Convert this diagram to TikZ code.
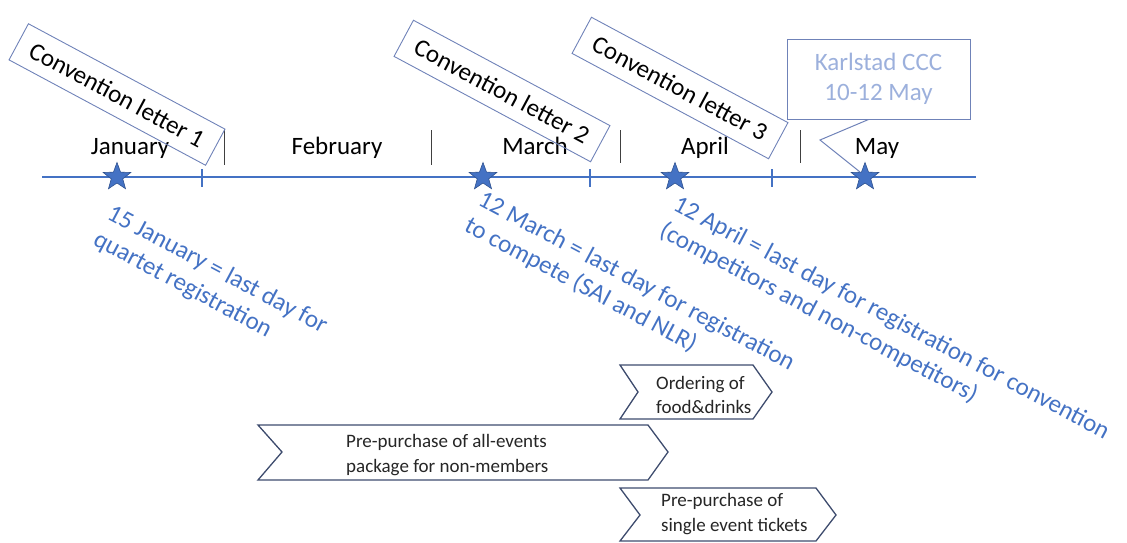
\documentclass[tikz,border=0pt]{standalone}
\usepackage{fontspec}
\setmainfont{Carlito}
\usetikzlibrary{shapes.geometric}
\definecolor{tlblue}{HTML}{4472C4}
\definecolor{stardark}{HTML}{2F528F}
\definecolor{boxblue}{HTML}{6F82B8}
\definecolor{karltext}{HTML}{9CB0DC}
\definecolor{chevline}{HTML}{3E4C6E}
\definecolor{chevtext}{HTML}{262626}
\tikzset{
  tline/.style={draw=tlblue, line width=2.2pt},
  tick/.style={draw=tlblue, line width=1.3pt},
  sep/.style={draw=black!75, line width=0.8pt},
  month/.style={font=\fontsize{25}{30}\selectfont, anchor=base, inner sep=0pt},
  starnode/.style={star, star points=5, star point ratio=2.4, minimum size=29pt, inner sep=0pt, fill=tlblue, draw=stardark, line width=0.6pt},
  letterbox/.style={draw=boxblue, line width=0.9pt, rotate=-28.2, minimum width=223pt, minimum height=41pt, inner sep=0pt, font=\fontsize{25}{30}\selectfont},
  karlbox/.style={draw=boxblue, line width=1pt, minimum width=183pt, minimum height=80pt, inner sep=0pt, align=center, text=karltext, font=\fontsize{25}{30}\selectfont},
  callout/.style={draw=boxblue, line width=1pt},
  datetext/.style={text=tlblue, rotate=-28, anchor=north west, align=left, inner sep=0pt, font=\fontsize{25}{29.5}\selectfont},
  chevron/.style={draw=chevline, line width=1.3pt, fill=white, line join=miter},
  chevlabel/.style={text=chevtext, anchor=west, align=left, inner sep=0pt, font=\fontsize{19}{24.5}\selectfont},
}
\begin{document}
\begin{tikzpicture}[x=1pt,y=-1pt]
\useasboundingbox (0,0) rectangle (1127,542);

% month separators
\draw[sep] (224,130) -- (224,165);
\draw[sep] (431,130) -- (431,165);
\draw[sep] (620,130) -- (620,163);
\draw[sep] (800,130) -- (800,163);

% month labels
\node[month] (jan) at (130,154) {January};
\node[month] (feb) at (337,154) {February};
\node[month] (mar) at (535,154) {March};
\node[month] (apr) at (705,154) {April};
\node[month] (may) at (877,154) {May};

% timeline
\coordinate (tl0) at (42,177);
\coordinate (tl1) at (976,177);
\draw[tline] (tl0) -- (tl1);
\draw[tick] (202,169) -- (202,187);
\draw[tick] (590,169) -- (590,187);
\draw[tick] (772,169) -- (772,187);

% convention letters
\node[letterbox] (cl1) at (117,94.5) {Convention letter 1};
\node[letterbox] (cl2) at (502,91) {Convention letter 2};
\node[letterbox] (cl3) at (680,88) {Convention letter 3};

% Karlstad callout
\node[karlbox] (karl) at (878.5,79) {Karlstad CCC\\10-12 May};
\coordinate (kbend) at (820,140);

% stars
\node[starnode] (s1) at (117,177) {};
\node[starnode] (s2) at (483,177) {};
\node[starnode] (s3) at (675,177) {};
\node[starnode] (s5) at (865,177) {};
\draw[callout] ([xshift=-10pt]karl.south) -- (kbend) -- (s5.north west);

% deadline texts
\node[datetext] (d1) at (114,203) {15 January = last day for\\quartet registration};
\node[datetext] (d2) at (485,189) {12 March = last day for registration\\to compete (SAI and NLR)};
\node[datetext] (d3) at (680,194) {12 April = last day for registration for convention\\(competitors and non-competitors)};

% chevrons
\draw[chevron] (620,365) -- (753,365) -- (772,392) -- (753,419) -- (620,419) -- (638,392) -- cycle;
\node[chevlabel] (ord) at (656,395) {Ordering of\\food\&drinks};
\draw[chevron] (258,425) -- (648,425) -- (668,452) -- (648,480) -- (258,480) -- (282,452) -- cycle;
\node[chevlabel] (allev) at (346,455) {Pre-purchase of all-events\\package for non-members};
\draw[chevron] (620,488) -- (816,488) -- (836,515) -- (816,541) -- (620,541) -- (640,515) -- cycle;
\node[chevlabel] (single) at (661,514) {Pre-purchase of\\single event tickets};
\end{tikzpicture}
\end{document}
